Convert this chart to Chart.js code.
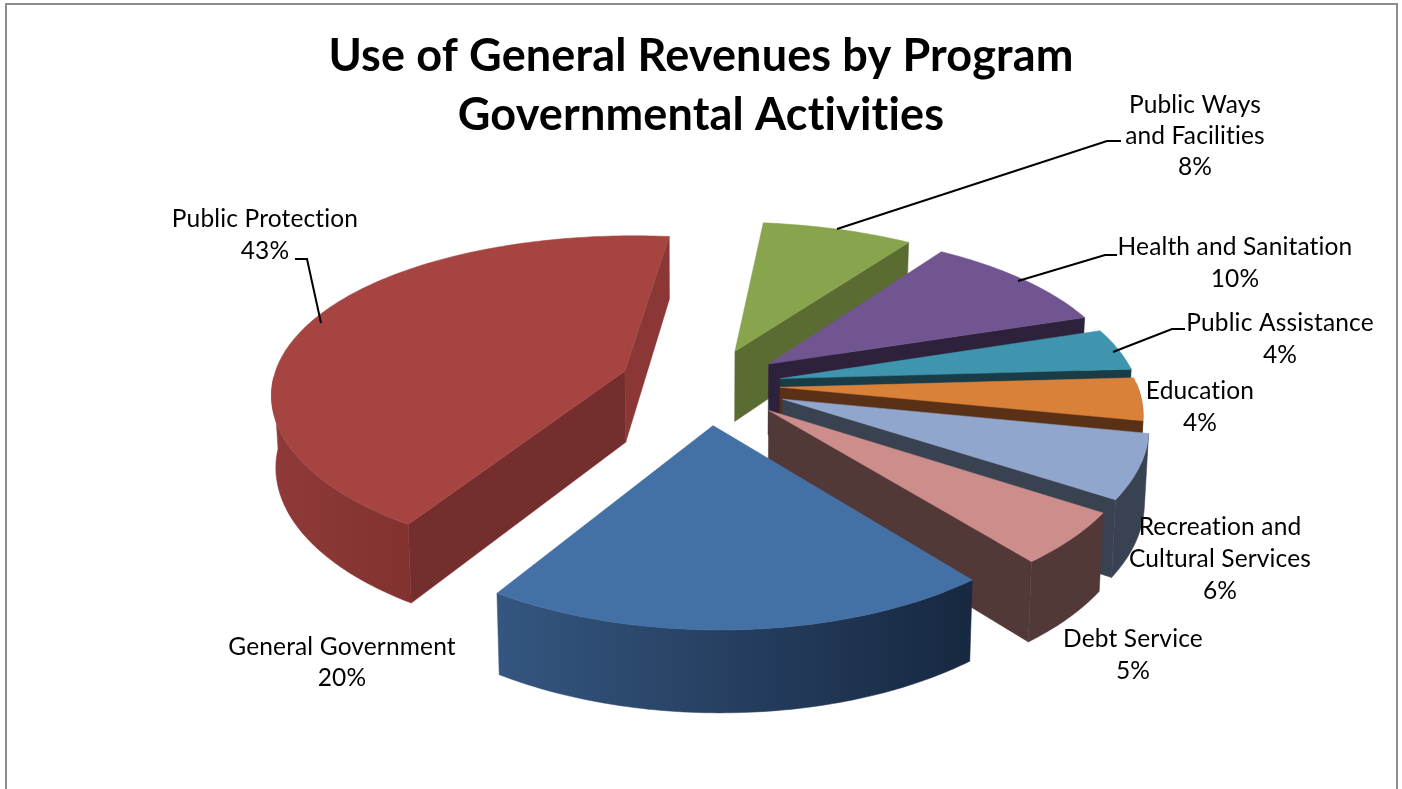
<!DOCTYPE html>
<html lang="en">
<head>
    <meta charset="UTF-8">
    <title>Use of General Revenues by Program</title>
    <script src="https://cdn.jsdelivr.net/npm/chart.js"></script>
    <style>
        html, body { margin: 0; padding: 0; background: #fff; overflow: hidden; }
        canvas { display: block; }
    </style>
</head>
<body>
    <canvas id="revenueChart" width="1402" height="789"></canvas>
    <script>
        // values
        const categories = ['Public Ways and Facilities', 'Health and Sanitation', 'Public Assistance', 'Education',
            'Recreation and Cultural Services', 'Debt Service', 'General Government', 'Public Protection'];
        const shares = [8, 10, 4, 4, 6, 5, 20, 43];
        const titleLines = ['Use of General Revenues by Program', 'Governmental Activities'];
        const labelLines = [['Public Ways', 'and Facilities'], ['Health and Sanitation'], ['Public Assistance'], ['Education'],
            ['Recreation and', 'Cultural Services'], ['Debt Service'], ['General Government'], ['Public Protection']];

        // styling
        const topColors = ['#88a44d', '#715590', '#3e95ad', '#da8139', '#91a6cd', '#cd8d8b', '#4471a5', '#a64442'];
        const sideColors = ['#5b6c33', '#2e213c', '#1a3c46', '#5a3116', '#384251', '#533838', '#742e2d', '#742e2d'];
        const wallColors = [['#5b6c33', '#5b6c33'], ['#2e213c', '#2e213c'], ['#1a3c46', '#1a3c46'], ['#5a3116', '#5a3116'],
            ['#384251', '#384251'], ['#533838', '#533838'], ['#345680', '#172840'], ['#8f3a38', '#82322f']];
        const endCutColors = [null, null, null, null, null, null, null, '#8a3735'];
        const explode = [80, 78, 75, 73, 80, 80, 84, 88];
        const labelCentres = [[1195, 105], [1235, 247], [1280, 323], [1200, 391], [1220, 527], [1133, 639], [342, 647], [265, 219]];
        const labelSpacing = [31, 32, 32, 32, 32, 32, 31, 32];
        const leaders = [
            [[1121, 141], [1107, 141], [837, 229]],
            [[1117, 255], [1105, 255], [1018, 281]],
            [[1185, 329], [1172, 329], [1113, 352]],
            null, null, null, null,
            [[295, 259], [307, 259], [321, 323]]
        ];
        const paintOrder = [0, 1, 2, 3, 4, 5, 7, 6];

        // tilted view: things nearer the viewer get a bit bigger
        function project(cx, cy, X, Y, bottom) {
            const w = 1 + 0.00038 * Y;
            let sx = cx + X * w + 0.04 * Y;
            let sy = cy + 0.4674 * Y + 0.0002065 * Y * Y - 0.012 * X;
            if (bottom) {
                sx -= X * w * 0.01;
                sy += 72 + 0.025 * Y;
            }
            return [sx, sy];
        }

        function fillPoly(ctx, pts, fill) {
            ctx.beginPath();
            pts.forEach((p, i) => i ? ctx.lineTo(p[0], p[1]) : ctx.moveTo(p[0], p[1]));
            ctx.closePath();
            ctx.fillStyle = fill;
            ctx.fill();
            ctx.strokeStyle = fill;
            ctx.lineWidth = 0.5;
            ctx.stroke();
        }

        const tiltedPie = {
            id: 'tiltedPie',
            beforeDraw(chart) {
                // a tiny spacing stops Lato joining "ti" into a ligature
                chart.ctx.letterSpacing = '0.15px';
            },
            beforeDatasetsDraw(chart) {
                const ctx = chart.ctx;
                const arcs = chart.getDatasetMeta(0).data;
                paintOrder.forEach(i => {
                    const arc = arcs[i];
                    const a = arc.startAngle, b = arc.endAngle, r = arc.outerRadius;
                    const mid = (a + b) / 2;
                    const off = arc.options.offset;
                    const cx = arc.x + 6, cy = arc.y;
                    const ox = Math.cos(mid) * off, oy = Math.sin(mid) * off;
                    const rimPoint = t => [ox + r * Math.cos(t), oy + r * Math.sin(t)];
                    const up = p => project(cx, cy, p[0], p[1], false);
                    const down = p => project(cx, cy, p[0], p[1], true);
                    const apex = [ox, oy];

                    // flat cut faces that look towards the viewer
                    if (Math.cos(a) < 0) {
                        const s = rimPoint(a);
                        fillPoly(ctx, [up(apex), up(s), down(s), down(apex)], sideColors[i]);
                    }
                    if (Math.cos(b) > 0) {
                        const e = rimPoint(b);
                        fillPoly(ctx, [up(apex), up(e), down(e), down(apex)], endCutColors[i] || sideColors[i]);
                    }

                    // outer wall, only the part on the near half
                    const steps = [];
                    for (let t = a; t < b; t += Math.PI / 180) {
                        if (Math.sin(t) >= 0) steps.push(t);
                    }
                    if (Math.sin(b) >= 0) steps.push(b);
                    if (steps.length > 1) {
                        const tops = steps.map(t => up(rimPoint(t)));
                        const bots = steps.map(t => down(rimPoint(t))).reverse();
                        const xs = tops.map(p => p[0]);
                        const g = ctx.createLinearGradient(Math.min(...xs), 0, Math.max(...xs), 0);
                        g.addColorStop(0, wallColors[i][0]);
                        g.addColorStop(1, wallColors[i][1]);
                        fillPoly(ctx, tops.concat(bots), g);
                    }

                    // top face
                    const face = [up(apex)];
                    for (let t = a; t < b; t += Math.PI / 180) face.push(up(rimPoint(t)));
                    face.push(up(rimPoint(b)));
                    fillPoly(ctx, face, arc.options.backgroundColor);
                });
                return false;
            },
            afterDraw(chart) {
                const ctx = chart.ctx;
                // leader lines
                ctx.strokeStyle = '#000';
                ctx.lineWidth = 2;
                leaders.forEach(line => {
                    if (!line) return;
                    ctx.beginPath();
                    line.forEach((p, i) => i ? ctx.lineTo(p[0], p[1]) : ctx.moveTo(p[0], p[1]));
                    ctx.stroke();
                });
                // data labels
                ctx.fillStyle = '#000';
                ctx.font = '24.5px Lato';
                ctx.textAlign = 'center';
                ctx.textBaseline = 'middle';
                labelLines.forEach((lines, i) => {
                    const texts = lines.concat(shares[i] + '%');
                    texts.forEach((t, j) => ctx.fillText(t, labelCentres[i][0], labelCentres[i][1] + j * labelSpacing[i]));
                });
                // chart frame
                ctx.strokeStyle = '#8e8e8e';
                ctx.lineWidth = 2;
                ctx.beginPath();
                ctx.moveTo(6, 800);
                ctx.lineTo(6, 4);
                ctx.lineTo(1397, 4);
                ctx.lineTo(1397, 800);
                ctx.stroke();
            }
        };

        new Chart(document.getElementById('revenueChart').getContext('2d'), {
            type: 'pie',
            data: {
                labels: categories,
                datasets: [{
                    data: shares,
                    backgroundColor: topColors,
                    offset: explode,
                    borderWidth: 0
                }]
            },
            options: {
                responsive: false,
                animation: false,
                rotation: 9,
                radius: 355,
                layout: { padding: { bottom: 164 } },
                plugins: {
                    legend: { display: false },
                    tooltip: { enabled: false },
                    title: {
                        display: true,
                        text: titleLines,
                        color: '#000',
                        font: { family: 'Lato', size: 45, weight: 'bold', lineHeight: 1.31 },
                        padding: { top: 27, bottom: 0 }
                    }
                }
            },
            plugins: [tiltedPie]
        });
    </script>
</body>
</html>
